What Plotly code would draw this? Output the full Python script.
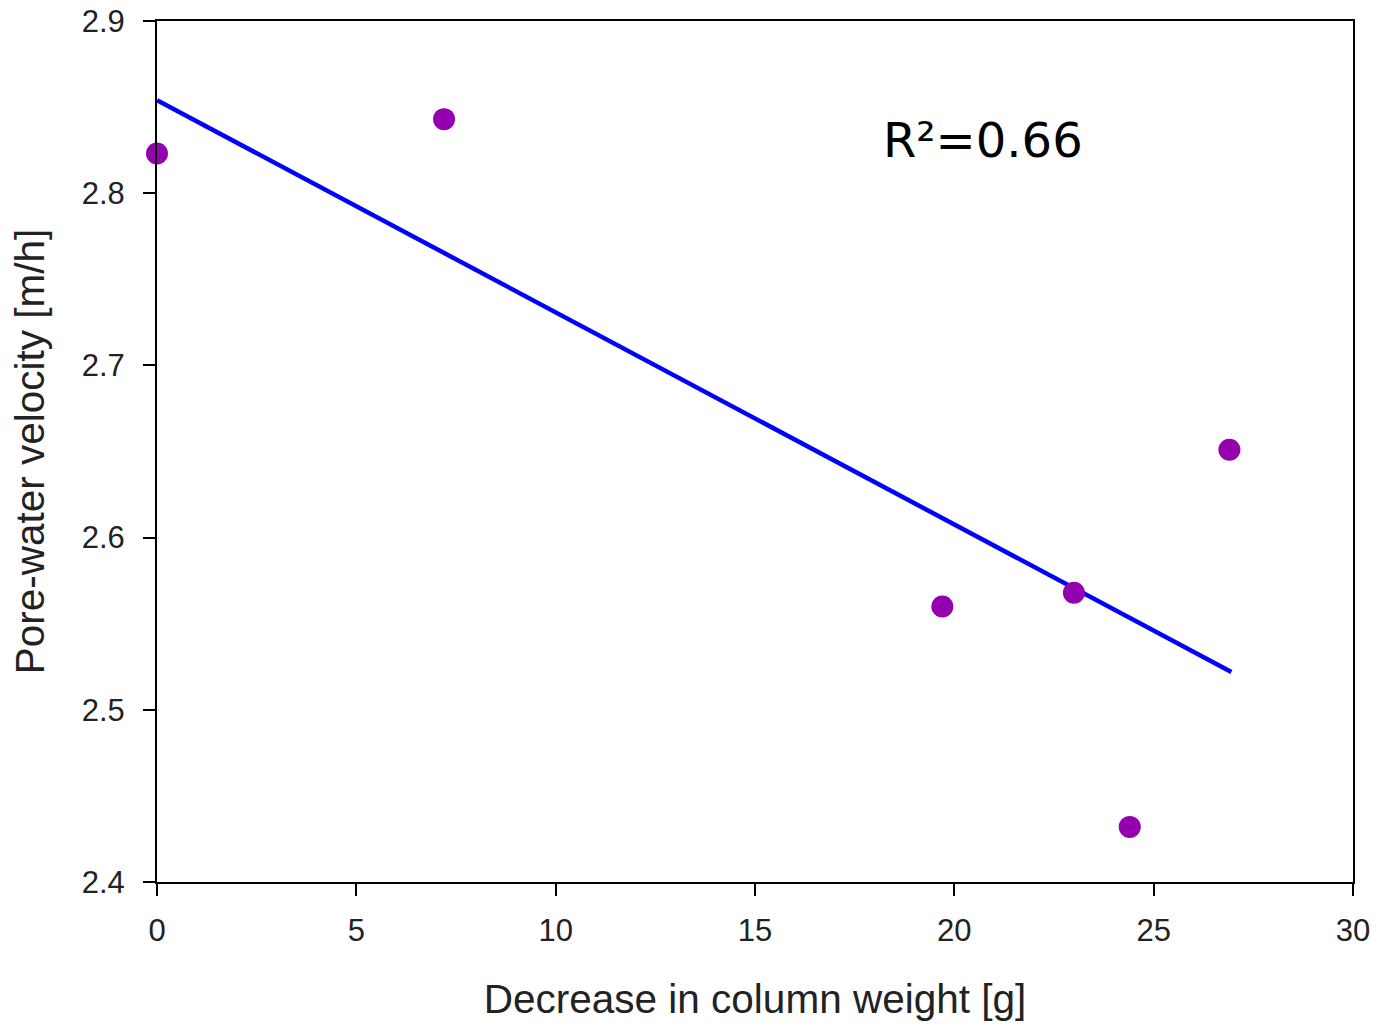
import plotly.graph_objects as go

weight_decrease = [0.0, 7.2, 19.7, 23.0, 24.4, 26.9]
pore_velocity = [2.823, 2.843, 2.560, 2.568, 2.432, 2.651]
fit_x = [0.0, 26.95]
fit_y = [2.854, 2.522]
r2_label = "R²=0.66"

fig = go.Figure()
fig.add_trace(go.Scatter(x=fit_x, y=fit_y, mode="lines",
                         line=dict(color="#0000FF", width=4.5), showlegend=False, cliponaxis=False))
fig.add_trace(go.Scatter(x=weight_decrease, y=pore_velocity, mode="markers",
                         marker=dict(color="#9400B0", size=22, line=dict(width=0)),
                         showlegend=False, cliponaxis=False))

fig.add_annotation(x=0.691, y=0.862, xref="paper", yref="paper", text=r2_label,
                   showarrow=False, xanchor="center", yanchor="middle",
                   font=dict(family="DejaVu Sans, sans-serif", size=48, color="#000"))

tick_font = dict(family="Liberation Sans, Arial, sans-serif", size=31, color="#222")
title_font = dict(family="Liberation Sans, Arial, sans-serif", size=40.5, color="#222")
axis_common = dict(showline=True, linecolor="#000", linewidth=2, mirror=True,
                   ticks="outside", ticklen=12, tickwidth=2, tickcolor="#000",
                   showgrid=False, zeroline=False, tickfont=tick_font)

fig.update_xaxes(range=[0, 30], tickvals=[0, 5, 10, 15, 20, 25, 30], ticklabelstandoff=8,
                 title=dict(text="Decrease in column weight [g]", standoff=37, font=title_font),
                 **axis_common)
fig.update_yaxes(range=[2.4, 2.9], tickvals=[2.4, 2.5, 2.6, 2.7, 2.8, 2.9], tickformat=".1f",
                 ticklabelstandoff=12,
                 title=dict(text="Pore-water velocity [m/h]", standoff=25, font=title_font),
                 **axis_common)

fig.update_layout(width=1385, height=1026, margin=dict(l=157, r=32, t=21, b=144, autoexpand=False),
                  plot_bgcolor="white", paper_bgcolor="white")

fig.write_html("out.html", config={"displayModeBar": False},
               post_script="document.body.style.margin='0';")
